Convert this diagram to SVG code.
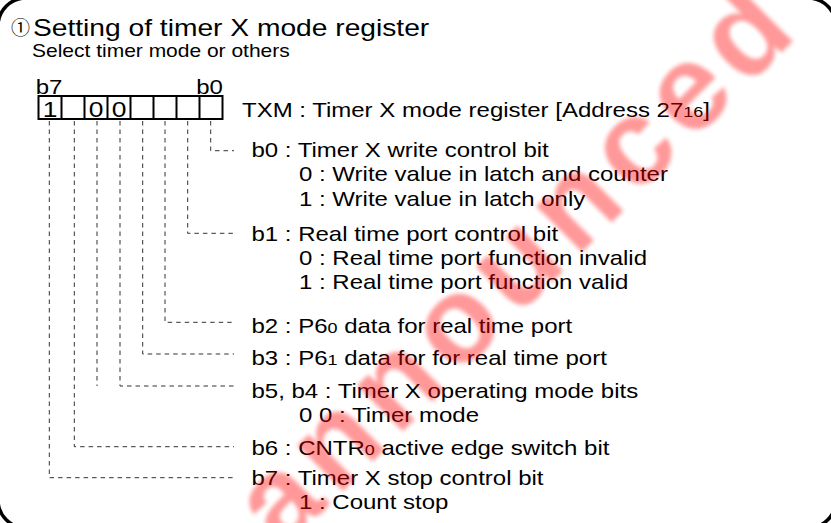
<svg xmlns="http://www.w3.org/2000/svg" width="831" height="523" viewBox="0 0 831 523">
<defs>
<style>
.t{font-family:"Liberation Sans",Arial,"Noto Sans CJK JP",sans-serif;font-size:20px;fill:#000}
.s{font-size:15px}
.c{stroke:#333;stroke-width:1;fill:none;stroke-dasharray:4.5 4}
.box{fill:#fff;stroke:#000;stroke-width:2}
</style>
<filter id="blur" x="-10%" y="-10%" width="120%" height="120%"><feGaussianBlur stdDeviation="2"/></filter>
</defs>
<rect width="831" height="523" fill="#fff"/>
<rect x="-2" y="-2" width="838" height="530" rx="28" fill="none" stroke="#000" stroke-width="3.5"/>

<g id="register">
<rect class="box" x="38.5" y="96" width="184" height="23"/>
<path d="M61.5 96V119M84.5 96V119M107.5 96V119M130.5 96V119M153.5 96V119M176.5 96V119M199.5 96V119" stroke="#000" stroke-width="2" fill="none"/>
</g>

<g id="connectors">
<path class="c" d="M210.7 121V150.7H234"/>
<path class="c" d="M187.7 121V233.3H234"/>
<path class="c" d="M165 121V322.3H234"/>
<path class="c" d="M142.7 121V354H234"/>
<path class="c" d="M120 121V386H234"/>
<path class="c" d="M97 121V386"/>
<path class="c" d="M74.3 121V446.7H234"/>
<path class="c" d="M49.3 121V477.7H234"/>
</g>

<text class="t" x="11" y="35" style="font-family:'Noto Sans CJK JP',sans-serif;font-size:19px">①</text>

<g transform="scale(1.2 1)">
<g id="title"><text class="t" x="27.5" y="36" style="font-size:23.5px">Setting of timer X mode register</text>
<text class="t" x="26.7" y="57" style="font-size:17.5px">Select timer mode or others</text></g>
<g id="bitlabels">
<text class="t" x="29.7" y="94">b7</text>
<text class="t" x="185.8" y="94" text-anchor="end">b0</text>
<text class="t" x="41.67" y="117" text-anchor="middle" style="font-size:22px">1</text>
<text class="t" x="80" y="117" text-anchor="middle" style="font-size:22px">0</text>
<text class="t" x="99.33" y="117" text-anchor="middle" style="font-size:22px">0</text>
</g>
<g id="txm"><text class="t" x="201.67" y="117">TXM : Timer X mode register [Address 27<tspan class="s">16</tspan>]</text></g>
<g id="b0"><text class="t" x="209.6" y="157">b0 : Timer X write control bit</text>
<text class="t" x="249.2" y="181.5">0 : Write value in latch and counter</text>
<text class="t" x="249.2" y="206">1 : Write value in latch only</text></g>
<g id="b1"><text class="t" x="209.6" y="241">b1 : Real time port control bit</text>
<text class="t" x="249.2" y="265">0 : Real time port function invalid</text>
<text class="t" x="249.2" y="289.5">1 : Real time port function valid</text></g>
<g id="b2"><text class="t" x="209.6" y="333">b2 : P6<tspan class="s">0</tspan> data for real time port</text></g>
<g id="b3"><text class="t" x="209.6" y="365">b3 : P6<tspan class="s">1</tspan> data for for real time port</text></g>
<g id="b54"><text class="t" x="209.6" y="398">b5, b4 : Timer X operating mode bits</text>
<text class="t" x="249.2" y="422.5">0 0 : Timer mode</text></g>
<g id="b6"><text class="t" x="209.6" y="455">b6 : CNTR<tspan class="s">0</tspan> active edge switch bit</text></g>
<g id="b7"><text class="t" x="209.6" y="485">b7 : Timer X stop control bit</text>
<text class="t" x="249.2" y="509.5">1 : Count stop</text></g>
</g>

<g id="watermark" filter="url(#blur)" opacity="0.4">
<text transform="translate(282 552) rotate(-45)" style="font-family:'Liberation Sans',Arial,sans-serif;font-weight:bold;font-size:122px;letter-spacing:10px" fill="#ff0000">announced</text>
</g>
</svg>
